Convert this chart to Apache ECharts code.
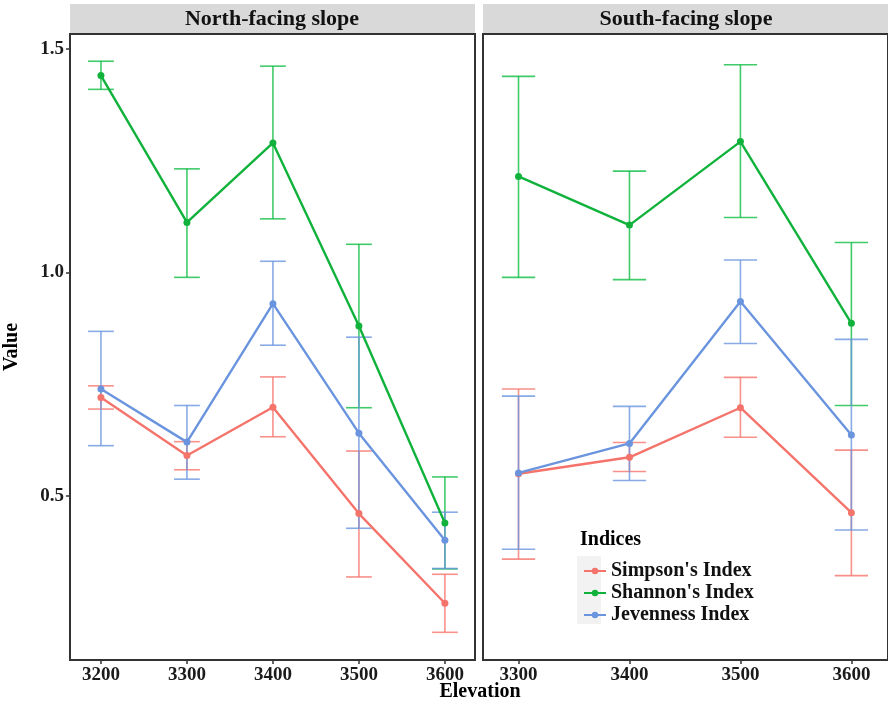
<!DOCTYPE html>
<html>
<head>
<meta charset="utf-8">
<script src="https://cdn.jsdelivr.net/npm/echarts@6/dist/echarts.min.js"></script>
<style>
html, body { margin: 0; padding: 0; background: #fff; }
#chart { width: 888px; height: 704px; }
</style>
</head>
<body>
<div id="chart"></div>
<script>
// 海拔
var northElev = [3200, 3300, 3400, 3500, 3600];
var southElev = [3300, 3400, 3500, 3600];
var seriesNames = ["Simpson's Index", "Shannon's Index", "Jevenness Index"];
var seriesColors = ['#F4736B', '#11B23C', '#6A95DE'];
var barColors = ['rgba(246,118,109,0.8)', 'rgba(0,186,56,0.75)', 'rgba(106,149,222,0.8)'];
var yTicks = [0.5, 1.0, 1.5];

// North-facing slope
var northSimpson   = [0.720, 0.590, 0.698, 0.460, 0.259];
var northSimpsonLo = [0.694, 0.558, 0.632, 0.318, 0.194];
var northSimpsonHi = [0.746, 0.621, 0.766, 0.600, 0.324];
var northShannon   = [1.441, 1.112, 1.290, 0.880, 0.439];
var northShannonLo = [1.410, 0.989, 1.120, 0.697, 0.336];
var northShannonHi = [1.473, 1.232, 1.462, 1.063, 0.542];
var northJeven     = [0.739, 0.620, 0.930, 0.640, 0.400];
var northJevenLo   = [0.612, 0.537, 0.837, 0.427, 0.337];
var northJevenHi   = [0.868, 0.702, 1.025, 0.855, 0.463];

// South-facing slope
var southSimpson   = [0.549, 0.586, 0.697, 0.462];
var southSimpsonLo = [0.358, 0.554, 0.631, 0.321];
var southSimpsonHi = [0.739, 0.619, 0.765, 0.602];
var southShannon   = [1.215, 1.106, 1.293, 0.886];
var southShannonLo = [0.989, 0.984, 1.123, 0.702];
var southShannonHi = [1.439, 1.227, 1.465, 1.067];
var southJeven     = [0.551, 0.617, 0.935, 0.636];
var southJevenLo   = [0.380, 0.534, 0.841, 0.423];
var southJevenHi   = [0.723, 0.700, 1.028, 0.850];

var FONT = "'Liberation Serif', 'DejaVu Serif', serif";
var CAP = 15; // 误差线帽宽 (数据单位的一半)

function zip(xs, ys) {
    return xs.map(function (x, i) { return [x, ys[i]]; });
}
function zip3(xs, lo, hi) {
    return xs.map(function (x, i) { return [x, lo[i], hi[i]]; });
}

function errorBarItem(params, api) {
    var x = api.value(0);
    var lo = api.coord([x, api.value(1)]);
    var hi = api.coord([x, api.value(2)]);
    var l = api.coord([x - CAP, api.value(1)])[0];
    var r = api.coord([x + CAP, api.value(1)])[0];
    var style = { stroke: api.visual('color'), lineWidth: 1.6, fill: null };
    return {
        type: 'group',
        children: [
            { type: 'line', shape: { x1: lo[0], y1: lo[1], x2: hi[0], y2: hi[1] }, style: style },
            { type: 'line', shape: { x1: l, y1: lo[1], x2: r, y2: lo[1] }, style: style },
            { type: 'line', shape: { x1: l, y1: hi[1], x2: r, y2: hi[1] }, style: style }
        ]
    };
}

function errSeries(idx, xs, lo, hi, k) {
    return {
        type: 'custom',
        name: seriesNames[k] + ' err',
        xAxisIndex: idx,
        yAxisIndex: idx,
        renderItem: errorBarItem,
        itemStyle: { color: barColors[k] },
        encode: { x: 0, y: [1, 2] },
        data: zip3(xs, lo, hi),
        silent: true,
        z: 2
    };
}

function lineSeries(idx, xs, ys, k) {
    return {
        type: 'line',
        name: seriesNames[k],
        xAxisIndex: idx,
        yAxisIndex: idx,
        data: zip(xs, ys),
        symbol: 'circle',
        symbolSize: 7,
        lineStyle: { width: 2.4, color: seriesColors[k] },
        itemStyle: { color: seriesColors[k] },
        z: 3
    };
}

function xAxisCfg(idx, ticks, min, max) {
    return {
        type: 'value',
        gridIndex: idx,
        min: min,
        max: max,
        splitLine: { show: false },
        axisLine: { show: false },
        axisTick: { show: true, length: 4, customValues: ticks, lineStyle: { color: '#333', width: 1.5 } },
        axisLabel: {
            customValues: ticks,
            formatter: function (v) { return String(v); },
            color: '#1a1a1a',
            fontFamily: FONT,
            fontWeight: 'bold',
            fontSize: 19,
            margin: 6
        }
    };
}

function yAxisCfg(idx) {
    var showLab = idx === 0;
    return {
        type: 'value',
        gridIndex: idx,
        min: 0.132,
        max: 1.534,
        name: showLab ? 'Value' : '',
        nameLocation: 'middle',
        nameRotate: 90,
        nameGap: 48,
        nameTextStyle: { fontFamily: FONT, fontWeight: 'bold', fontSize: 20, color: '#000' },
        splitLine: { show: false },
        axisLine: { show: false },
        axisTick: { show: showLab, length: 4, customValues: yTicks, lineStyle: { color: '#333', width: 1.5 } },
        axisLabel: {
            show: showLab,
            customValues: yTicks,
            formatter: function (v) { return v.toFixed(1); },
            color: '#1a1a1a',
            fontFamily: FONT,
            fontWeight: 'bold',
            fontSize: 19,
            margin: 6
        }
    };
}

var chart = echarts.init(document.getElementById('chart'));

var series = [
    errSeries(0, northElev, northSimpsonLo, northSimpsonHi, 0),
    errSeries(0, northElev, northShannonLo, northShannonHi, 1),
    errSeries(0, northElev, northJevenLo, northJevenHi, 2),
    errSeries(1, southElev, southSimpsonLo, southSimpsonHi, 0),
    errSeries(1, southElev, southShannonLo, southShannonHi, 1),
    errSeries(1, southElev, southJevenLo, southJevenHi, 2),
    lineSeries(0, northElev, northSimpson, 0),
    lineSeries(0, northElev, northShannon, 1),
    lineSeries(0, northElev, northJeven, 2),
    lineSeries(1, southElev, southSimpson, 0),
    lineSeries(1, southElev, southShannon, 1),
    lineSeries(1, southElev, southJeven, 2)
];

var option = {
    animation: false,
    backgroundColor: '#ffffff',
    grid: [
        { left: 70, top: 34, width: 405, height: 626, show: true, borderColor: '#333', borderWidth: 2, backgroundColor: 'transparent' },
        { left: 483, top: 34, width: 408, height: 626, show: true, borderColor: '#333', borderWidth: 2, backgroundColor: 'transparent' }
    ],
    xAxis: [
        xAxisCfg(0, northElev, 3164, 3635),
        xAxisCfg(1, southElev, 3268, 3633)
    ],
    yAxis: [yAxisCfg(0), yAxisCfg(1)],
    legend: {
        data: seriesNames,
        orient: 'vertical',
        left: 578,
        top: 556,
        itemWidth: 22,
        itemHeight: 8,
        itemGap: 2,
        selectedMode: false,
        textStyle: { fontFamily: FONT, fontWeight: 'bold', fontSize: 20, color: '#111' }
    },
    graphic: [
        { type: 'rect', left: 70, top: 4, shape: { width: 405, height: 29 }, style: { fill: '#d9d9d9' }, z: 0 },
        { type: 'rect', left: 483, top: 4, shape: { width: 408, height: 29 }, style: { fill: '#d9d9d9' }, z: 0 },
        { type: 'text', x: 272, y: 19, style: { text: 'North-facing slope', fill: '#111', font: 'bold 22px ' + FONT, textAlign: 'center', textVerticalAlign: 'middle' } },
        { type: 'text', x: 686, y: 19, style: { text: 'South-facing slope', fill: '#111', font: 'bold 22px ' + FONT, textAlign: 'center', textVerticalAlign: 'middle' } },
        { type: 'text', x: 480, y: 692, style: { text: 'Elevation', fill: '#000', font: 'bold 20px ' + FONT, textAlign: 'center', textVerticalAlign: 'middle' } },
        { type: 'text', x: 580, y: 540, style: { text: 'Indices', fill: '#000', font: 'bold 20px ' + FONT, textAlign: 'left', textVerticalAlign: 'middle' } },
        { type: 'rect', left: 577, top: 556, shape: { width: 24, height: 68 }, style: { fill: '#f2f2f2' }, z: -1 }
    ],
    series: series
};

chart.setOption(option);
</script>
</body>
</html>
